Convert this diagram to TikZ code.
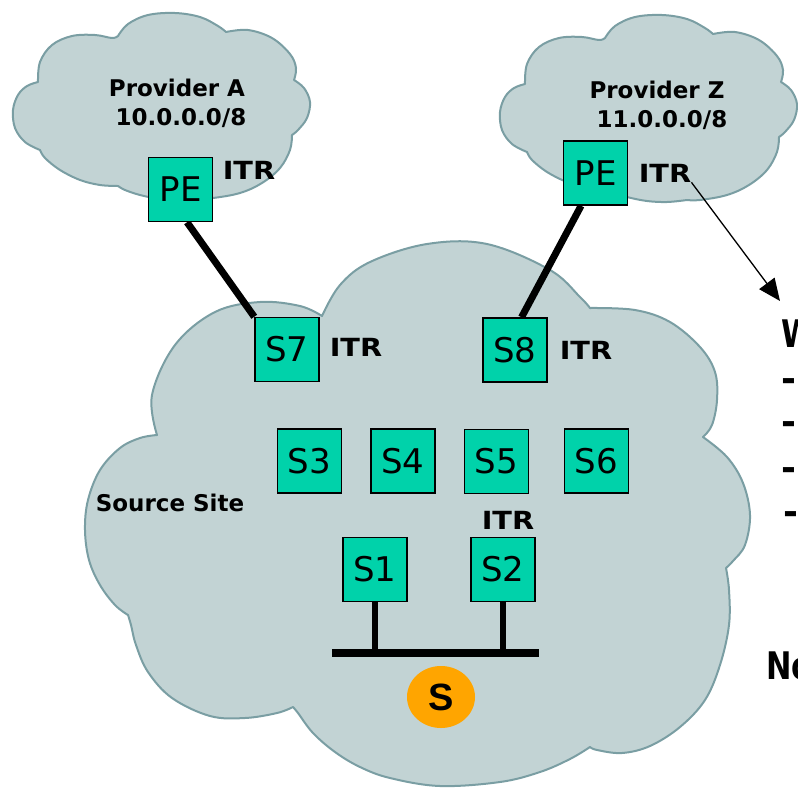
\documentclass[tikz,border=0pt]{standalone}
\usepackage{fontspec}
\setmainfont{DejaVu Sans}
\newfontfamily\wideface[FakeStretch=1.15]{DejaVu Sans}
\newfontfamily\narrowface[FakeStretch=0.8]{DejaVu Sans}
\newfontfamily\arialface{Liberation Sans}
\usetikzlibrary{arrows.meta,calc,backgrounds,shapes.geometric}

\definecolor{cloudfill}{HTML}{C2D3D4}
\definecolor{cloudline}{HTML}{7A9EA3}
\definecolor{boxfill}{HTML}{00D2AA}
\definecolor{srcfill}{HTML}{FFA500}

\tikzset{
  cloudshape/.style={fill=cloudfill, draw=cloudline, line width=2pt, line join=round},
  router/.style={draw=black, line width=1.5pt, fill=boxfill, minimum width=64pt,
    minimum height=64pt, inner sep=0pt, font=\fontsize{34}{38}\selectfont},
  lbl/.style={font=\bfseries\fontsize{23}{27}\selectfont, inner sep=0pt},
  itr/.style={font=\wideface\bfseries\fontsize{25}{29}\selectfont, inner sep=0pt},
  edgetext/.style={font=\narrowface\bfseries\fontsize{38}{42}\selectfont, inner sep=0pt},
  bullettext/.style={font=\bfseries\fontsize{36}{40}\selectfont, inner sep=0pt},
  uplink/.style={line width=7pt},
  stub/.style={line width=6pt},
  bus/.style={line width=8pt},
  pointer/.style={line width=1.3pt, -{Triangle[length=22pt,width=19pt]}},
  providercloud/.pic={
    \filldraw[cloudshape]
      plot[smooth,tension=0.6] coordinates {(38,82) (40,62) (52,45) (72,36) (95,35) (112,38) (118,36)}
      -- plot[smooth,tension=0.6] coordinates {(118,36) (128,24) (148,15) (175,13) (200,17) (218,26) (226,32)}
      -- plot[smooth,tension=0.6] coordinates {(226,32) (248,30) (272,38) (290,54) (296,68) (294,80)}
      -- plot[smooth,tension=0.6] coordinates {(294,80) (304,88) (310,102) (307,118) (298,130) (292,135)}
      -- plot[smooth,tension=0.6] coordinates {(292,135) (290,150) (280,168) (262,183) (240,193) (213,198) (200,198)}
      -- plot[smooth,tension=0.6] coordinates {(200,198) (180,200) (160,199) (140,195) (125,190) (118,186)}
      -- plot[smooth,tension=0.6] coordinates {(118,186) (100,185) (80,180) (60,170) (45,158) (40,150)}
      -- plot[smooth,tension=0.6] coordinates {(40,150) (25,142) (15,128) (13,110) (18,95) (27,86) (38,82)}
      -- cycle;
  },
}

\begin{document}
\begin{tikzpicture}[x=1pt,y=-1pt]
\useasboundingbox (0,0) rectangle (798,788);

% clouds
\begin{scope}[on background layer]
  \pic at (0,0) {providercloud};
  \pic at (487,2) {providercloud};
  \filldraw[cloudshape]
    plot[smooth,tension=0.6] coordinates {(157,435) (152,395) (175,345) (215,312) (260,302) (300,306) (322,316)}
    -- plot[smooth,tension=0.6] coordinates {(322,316) (340,285) (370,262) (427,244) (487,244) (550,270) (580,297) (590,308)}
    -- plot[smooth,tension=0.6] coordinates {(590,308) (635,310) (670,322) (700,347) (715,372) (717,400) (712,425) (703,437)}
    -- plot[smooth,tension=0.6] coordinates {(703,437) (727,457) (743,483) (750,515) (745,545) (733,561) (726,568)}
    -- plot[smooth,tension=0.6] coordinates {(726,568) (729,590) (729,625) (720,665) (705,700) (680,727) (650,746) (622,753) (597,750) (590,747)}
    -- plot[smooth,tension=0.6] coordinates {(590,747) (570,759) (540,772) (500,782) (440,786) (390,778) (360,767) (335,752) (313,733) (298,713) (293,707)}
    -- plot[smooth,tension=0.6] coordinates {(293,707) (277,713) (245,718) (210,716) (172,698) (148,672) (136,645) (131,625) (128,615)}
    -- plot[smooth,tension=0.6] coordinates {(128,615) (115,605) (100,585) (89,560) (85,530) (88,500) (100,470) (120,448) (140,438) (157,435)}
    -- cycle;
\end{scope}

% provider labels
\node[lbl] (provA) at (177,88) {Provider A};
\node[lbl] (netA) at (181,118) {10.0.0.0/8};
\node[lbl] (provZ) at (657,90) {Provider Z};
\node[lbl] (netZ) at (662,120) {11.0.0.0/8};
\node[lbl] (site) at (170,503) {Source Site};

% routers
\node[router] (PEA) at (180.5,189.5) {PE};
\node[router] (PEZ) at (595.5,173) {PE};
\node[router] (S7) at (287,349.5) {S7};
\node[router] (S8) at (515,350) {S8};
\node[router] (S3) at (309.5,461) {S3};
\node[router] (S4) at (403,461) {S4};
\node[router] (S5) at (496.5,461.5) {S5};
\node[router] (S6) at (596.5,461) {S6};
\node[router] (S1) at (375,569.5) {S1};
\node[router] (S2) at (503,569.5) {S2};

% ITR labels
\node[itr] (itrA) at (249,170) {ITR};
\node[itr] (itrZ) at (665,173) {ITR};
\node[itr] (itr7) at (356,347) {ITR};
\node[itr] (itr8) at (586,350) {ITR};
\node[itr] (itr5) at (508,520) {ITR};

% source host
\node[ellipse, fill=srcfill, minimum width=68pt, minimum height=62pt, inner sep=0pt,
  font=\arialface\bfseries\fontsize{38}{40}\selectfont] (src) at (441,697) {S};

% LAN segment
\coordinate (busL) at (332,653);
\coordinate (busR) at (539,653);
\draw[bus] (busL) -- (busR);

\begin{scope}[on background layer]
  \draw[uplink] ($(PEA.south west)!0.6!(PEA.south east)$) -- (S7.north west);
  \draw[uplink] ($(PEZ.south west)!0.28!(PEZ.south east)$) -- ($(S8.north west)!0.6!(S8.north east)$);
  \draw[stub] (S1.south) -- (S1.south |- busL);
  \draw[stub] (S2.south) -- (S2.south |- busL);
\end{scope}

% pointer to the side text
\coordinate (tip) at (780,301);
\draw[pointer] (itrZ.south east) -- (tip);

% side text, running off the right edge
\node[edgetext, anchor=base west] (wtxt) at (781,347) {W};
\node[bullettext, anchor=base west] (d1) at (781,391) {-};
\node[bullettext, anchor=base west] (d2) at (781,434) {-};
\node[bullettext, anchor=base west] (d3) at (781,480) {-};
\node[bullettext, anchor=base west] (d4) at (783,524) {-};
\node[edgetext, anchor=base west] (notxt) at (766,679) {No};
\end{tikzpicture}
\end{document}
